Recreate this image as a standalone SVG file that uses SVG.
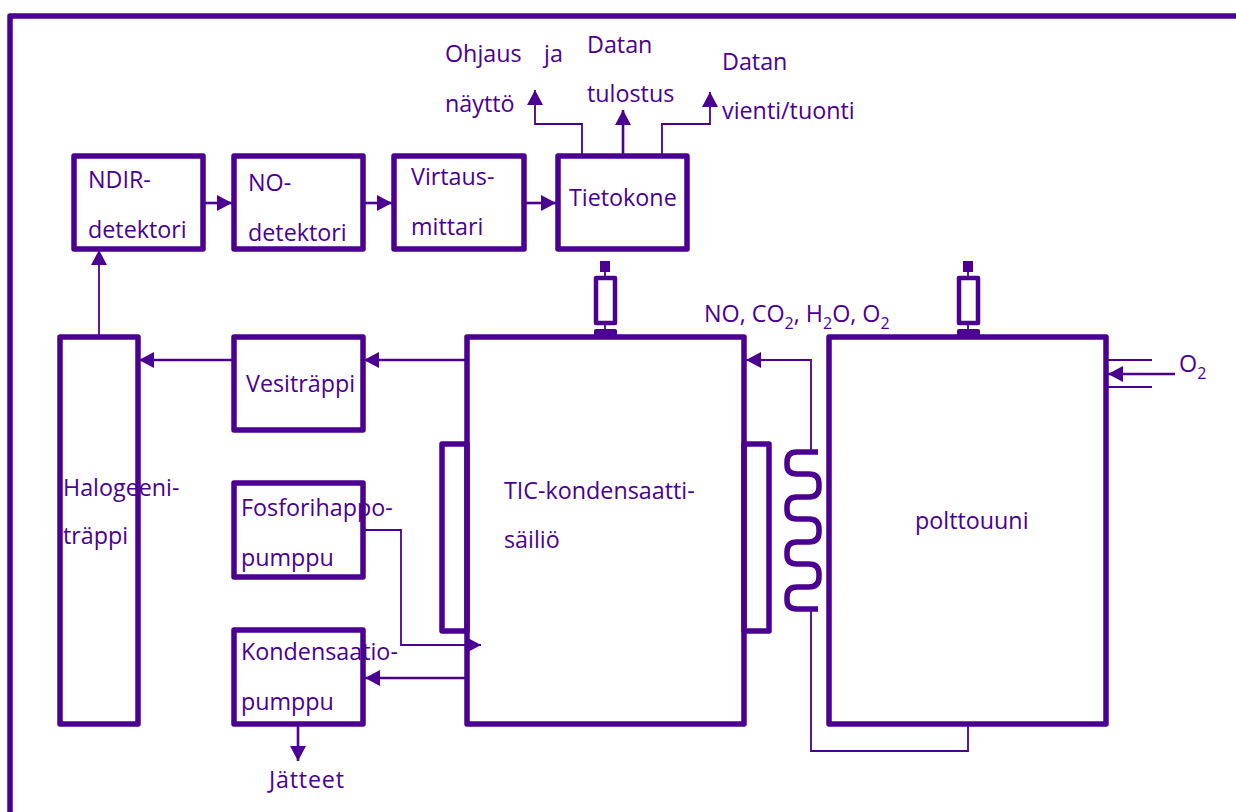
<svg xmlns="http://www.w3.org/2000/svg" width="1236" height="812" viewBox="0 0 1236 812">
<style>
.b{fill:none;stroke:#4b0091;stroke-width:5.5;stroke-linejoin:round}
.l{fill:none;stroke:#4b0091;stroke-width:1.8}
.t{fill:none;stroke:#4b0091;stroke-width:2.6}
.f{fill:#4b0091;stroke:none}
text{font-family:"Open Sans","Noto Sans","Liberation Sans",sans-serif;font-size:23.3px;fill:#4b0091}
.s{font-size:16px}
</style>
<defs><marker id="a" markerUnits="userSpaceOnUse" markerWidth="16" markerHeight="16" refX="15" refY="8" orient="auto"><path d="M0 0L15 8L0 16Z" fill="#4b0091"/></marker></defs>
<rect width="1236" height="812" fill="#fff"/>
<path class="b" d="M10 812V16H1236"/>
<g id="connectors">
<path class="t" d="M205 203H232" marker-end="url(#a)"/>
<path class="t" d="M365 203H392" marker-end="url(#a)"/>
<path class="t" d="M526 203H556" marker-end="url(#a)"/>
<path class="l" d="M99 335V250" marker-end="url(#a)"/>
<path class="t" d="M233 360H139" marker-end="url(#a)"/>
<path class="t" d="M466 360H364" marker-end="url(#a)"/>
<path class="t" d="M466 678H365" marker-end="url(#a)"/>
<path class="l" d="M582 155V124H535V90" marker-end="url(#a)"/>
<path class="t" d="M623 155V110" marker-end="url(#a)"/>
<path class="l" d="M662 155V124H710V92" marker-end="url(#a)"/>
<path class="l" d="M364 530H401V645H481" marker-end="url(#a)"/>
<path class="l" d="M811 452V360H746" marker-end="url(#a)"/>
<path class="l" d="M811 610V751H968V725"/>
<path class="t" d="M1175 374H1108" marker-end="url(#a)"/>
<path class="l" d="M1108 360H1152M1108 387H1152"/>
<path class="t" d="M298 725V761" marker-end="url(#a)"/>
</g>
<g id="coil"><path class="b" d="M818 452H797Q787 452 787 462V465Q787 474 797 474H809Q819 474 819 484V487Q819 497 809 497H797Q787 497 787 507V510Q787 519 797 519H809Q819 519 819 529V532Q819 542 809 542H797Q787 542 787 552V555Q787 564 797 564H809Q819 564 819 574V577Q819 587 809 587H797Q787 587 787 597V600Q787 609 797 609H818"/></g>
<g id="ndir"><rect class="b" x="74" y="156" width="129" height="93"/><text x="88" y="188">NDIR-</text><text x="88" y="238">detektori</text></g>
<g id="no"><rect class="b" x="234" y="156" width="129" height="93"/><text x="248" y="191">NO-</text><text x="248" y="241">detektori</text></g>
<g id="virtaus"><rect class="b" x="394" y="156" width="130" height="93"/><text x="411" y="185">Virtaus-</text><text x="411" y="235">mittari</text></g>
<g id="tietokone"><rect class="b" x="558" y="156" width="129" height="93"/><text x="569" y="206">Tietokone</text></g>
<g id="halogeeni"><rect class="b" x="60" y="337" width="78" height="387"/><text x="63" y="496">Halogeeni-</text><text x="63" y="544">träppi</text></g>
<g id="vesi"><rect class="b" x="234" y="337" width="129" height="93"/><text x="246" y="392">Vesiträppi</text></g>
<g id="fosfori"><rect class="b" x="234" y="483" width="129" height="94"/><text x="241" y="516">Fosforihappo-</text><text x="241" y="566">pumppu</text></g>
<g id="kondensaatio"><rect class="b" x="234" y="630" width="129" height="94"/><text x="241" y="660">Kondensaatio-</text><text x="241" y="710">pumppu</text></g>
<g id="tic"><rect class="b" x="442" y="444" width="25" height="187"/><rect class="b" x="744" y="444" width="25" height="187"/><rect class="b" x="467" y="337" width="277" height="387"/><text x="504" y="499">TIC-kondensaatti-</text><text x="504" y="548">säiliö</text></g>
<g id="polttouuni"><rect class="b" x="829" y="337" width="277" height="387"/><text x="915" y="529">polttouuni</text></g>
<g id="sensor1"><rect class="f" x="600" y="261" width="10" height="11"/><path class="l" d="M605 272V277M605 325V331"/><rect class="b" x="596" y="278" width="19" height="45" style="stroke-width:4.5"/><rect class="f" x="594" y="329" width="23" height="8" rx="2"/></g>
<g id="sensor2"><rect class="f" x="963" y="261" width="10" height="11"/><path class="l" d="M968 272V277M968 325V331"/><rect class="b" x="959" y="278" width="19" height="45" style="stroke-width:4.5"/><rect class="f" x="957" y="329" width="23" height="8" rx="2"/></g>
<g id="labels">
<text x="445" y="62">Ohjaus</text><text x="544" y="62">ja</text><text x="445" y="112">näyttö</text>
<text x="587" y="53">Datan</text><text x="587" y="102">tulostus</text>
<text x="722" y="70">Datan</text><text x="722" y="119">vienti/tuonti</text>
<text x="704" y="322">NO, CO<tspan class="s" dy="7">2</tspan><tspan dy="-7">, H</tspan><tspan class="s" dy="7">2</tspan><tspan dy="-7">O, O</tspan><tspan class="s" dy="7">2</tspan></text>
<text x="1179" y="372">O<tspan class="s" dy="7">2</tspan></text>
<text x="269" y="788" textLength="75">Jätteet</text>
</g>
</svg>
